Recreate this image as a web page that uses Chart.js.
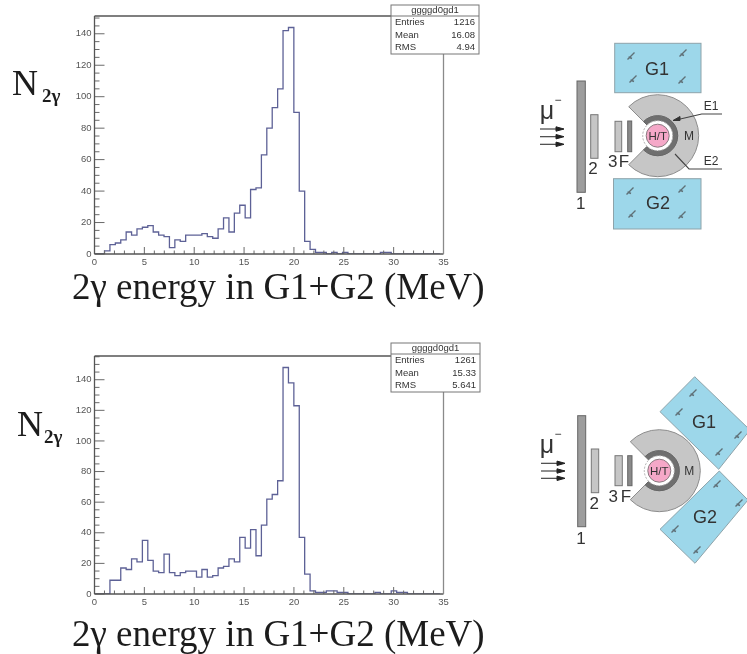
<!DOCTYPE html>
<html><head><meta charset="utf-8">
<style>
html,body{margin:0;padding:0;background:#fff;width:747px;height:654px;overflow:hidden}
#page{position:relative;width:747px;height:654px;filter:blur(0.55px)}
canvas.c{position:absolute;left:0}
.t{position:absolute;font-family:"Liberation Serif",serif;color:#1c1c1c;white-space:nowrap;line-height:1}
svg{position:absolute;left:0;top:0}
svg text{font-family:"Liberation Sans",sans-serif;fill:#333;text-anchor:middle;dominant-baseline:central}
</style>
<script src="https://cdn.jsdelivr.net/npm/chart.js@4"></script>
</head><body><div id="page">
<canvas class="c" id="c1" width="747" height="327" style="top:0;width:747px;height:327px"></canvas>
<canvas class="c" id="c2" width="747" height="327" style="top:327px;width:747px;height:327px"></canvas>
<div class="t" style="left:12px;top:65px;font-size:36px">N<span style="font-size:19px;font-weight:bold;position:relative;top:7px;left:4px">2γ</span></div>
<div class="t" style="left:17px;top:406px;font-size:36px">N<span style="font-size:19px;font-weight:bold;position:relative;top:7px;left:1px">2γ</span></div>
<div class="t" style="left:72px;top:268px;font-size:37px">2γ energy in G1+G2 (MeV)</div>
<div class="t" style="left:72px;top:615px;font-size:37px">2γ energy in G1+G2 (MeV)</div>
<svg id="dia" width="747" height="654"></svg>
</div>
<script>
// Histogram values (one count per bin, starting at the first bin)
const binStartMeV = -0.08;
const binWidthMeV = 0.5425;
const countsTop = [0,0,2,6,7,9,14,12,16,17,18,14,12,11,4,9,8,12,12,12,13,11,10,16,23,14,26,31,23,41,42,63,80,93,105,142,144,90,40,8,3,1,1,0,1,0,1,0,0,0,0,0,0,1,1,0,0,0,0,0,0,0,0,0];
const countsBottom = [0,0,0,9,9,17,16,23,21,35,22,15,14,26,14,12,14,15,15,11,16,11,12,17,18,23,21,37,30,42,25,45,62,65,74,148,138,123,37,13,2,1,1,2,2,1,1,0,0,0,0,0,1,0,0,2,1,1,0,0,0,0,0,0];
const xTicks = [0,5,10,15,20,25,30,35];
const yTicks = [0,20,40,60,80,100,120,140];
const xMinorStep = 1;
const yMinorStep = 5;
const statsTop = {name:"ggggd0gd1", Entries:"1216", Mean:"16.08", RMS:"4.94"};
const statsBottom = {name:"ggggd0gd1", Entries:"1261", Mean:"15.33", RMS:"5.641"};

function stepPoints(counts){
  const pts = counts.map((v,i)=>({x:binStartMeV+i*binWidthMeV,y:v}));
  pts.push({x:binStartMeV+counts.length*binWidthMeV,y:0});
  return pts;
}
const rootStyle = {
  id:'rootStyle',
  afterDatasetsDraw(chart,_,opts){
    const {ctx,chartArea:a,scales:{x,y}} = chart;
    ctx.save();
    ctx.strokeStyle='#6a6a6a'; ctx.lineWidth=1;
    const line=(x0,y0,x1,y1)=>{ctx.beginPath();ctx.moveTo(x0,y0);ctx.lineTo(x1,y1);ctx.stroke();};
    for(let v=0;v<=x.max;v+=xMinorStep){
      const major=xTicks.includes(v), px=x.getPixelForValue(v);
      line(px,a.bottom,px,a.bottom-(major?7:3.5));
    }
    for(let v=0;v<=y.max;v+=yMinorStep){
      const major=yTicks.includes(v), py=y.getPixelForValue(v);
      line(a.left,py,a.left+(major?10:5),py);
    }
    ctx.strokeStyle='#555'; ctx.lineWidth=1.3;
    line(a.left,a.top,a.left,a.bottom);
    line(a.left,a.bottom,a.right,a.bottom);
    line(a.left,a.top,opts.box.x,a.top);
    ctx.strokeStyle='#8a8a8a';
    line(a.right,opts.box.y+opts.box.h,a.right,a.bottom);
    // statistics box
    const b=opts.box,s=opts.stats;
    ctx.fillStyle='#fff'; ctx.fillRect(b.x,b.y,b.w,b.h);
    ctx.strokeStyle='#777'; ctx.lineWidth=1;
    ctx.strokeRect(b.x,b.y,b.w,b.h);
    line(b.x,b.y+b.head,b.x+b.w,b.y+b.head);
    ctx.fillStyle='#333'; ctx.font='9.5px "Liberation Sans"'; ctx.textBaseline='middle';
    ctx.textAlign='center'; ctx.fillText(s.name,b.x+b.w/2,b.y+b.head/2);
    const rowH=(b.h-b.head)/3;
    ['Entries','Mean','RMS'].forEach((k,i)=>{
      const ry=b.y+b.head+rowH*(i+.5);
      ctx.textAlign='left'; ctx.fillText(k,b.x+4,ry);
      ctx.textAlign='right'; ctx.fillText(s[k],b.x+b.w-4,ry);
    });
    ctx.restore();
  }
};
function hist(id,counts,stats,top,bottom,yMax,box){
  new Chart(document.getElementById(id),{
    type:'line',
    data:{datasets:[{data:stepPoints(counts),stepped:'before',borderColor:'#5d6196',borderWidth:1.3,pointRadius:0,fill:false}]},
    options:{
      responsive:false,animation:false,
      layout:{padding:{left:0,right:303.5,top:top,bottom:0}},
      plugins:{legend:{display:false},tooltip:{enabled:false},rootStyle:{stats:stats,box:box}},
      scales:{
        x:{type:'linear',min:0,max:35,
          grid:{display:false,drawTicks:false,tickLength:0},border:{display:false},
          afterBuildTicks:s=>{s.ticks=xTicks.map(v=>({value:v}));},
          afterFit:s=>{s.height=327-bottom;},
          ticks:{autoSkip:false,maxRotation:0,padding:3,font:{family:'"Liberation Sans"',size:9.5},color:'#555',callback:v=>String(v)}},
        y:{type:'linear',min:0,max:yMax,
          grid:{display:false,drawTicks:false,tickLength:0},border:{display:false},
          afterBuildTicks:s=>{s.ticks=yTicks.map(v=>({value:v}));},
          afterFit:s=>{s.width=94.5;},
          ticks:{autoSkip:false,padding:3,font:{family:'"Liberation Sans"',size:9.5},color:'#555',callback:v=>String(v)}}
      }
    },
    plugins:[rootStyle]
  });
}
hist('c1',countsTop,statsTop,16,254,151.3,{x:391,y:5,w:88,h:49,head:11});
hist('c2',countsBottom,statsBottom,29,267,155.5,{x:391,y:16,w:89,h:49,head:11});

// Detector schematics
const NS='http://www.w3.org/2000/svg', dia=document.getElementById('dia');
function el(n,a,txt){const e=document.createElementNS(NS,n);for(const k in a)e.setAttribute(k,a[k]);if(txt)e.textContent=txt;dia.appendChild(e);return e;}
const rect=(x0,y0,x1,y1,fill,stroke)=>el('rect',{x:x0,y:y0,width:x1-x0,height:y1-y0,fill:fill,stroke:stroke,'stroke-width':1});
const label=(x,y,s,size)=>el('text',{x:x,y:y,'font-size':size},s);
const poly=(pts,fill,stroke)=>el('polygon',{points:pts.map(p=>p.join(',')).join(' '),fill:fill,stroke:stroke,'stroke-width':1});
const seg=(pts,c,w)=>el('polyline',{points:pts.map(p=>p.join(',')).join(' '),fill:'none',stroke:c,'stroke-width':w});
function sector(cx,cy,r0,r1,fill,stroke){
  const g=Math.SQRT1_2;
  const d=`M${cx-g*r1} ${cy-g*r1}A${r1} ${r1} 0 1 1 ${cx-g*r1} ${cy+g*r1}L${cx-g*r0} ${cy+g*r0}A${r0} ${r0} 0 1 0 ${cx-g*r0} ${cy-g*r0}Z`;
  el('path',{d:d,fill:fill,stroke:stroke,'stroke-width':1});
}
function core(cx,cy){
  sector(cx,cy,20,41,'#c6c6c6','#8c8c8c');
  sector(cx,cy,15,20,'#6f6f6f','#666');
  el('circle',{cx:cx,cy:cy,r:15,fill:'#fff',stroke:'#aaa','stroke-width':1,'stroke-dasharray':'2 1.5'});
  el('circle',{cx:cx,cy:cy,r:11.5,fill:'#f5a8c8',stroke:'#8a7a80','stroke-width':1});
  label(cx,cy,'H/T',11.5);
}
function mark(x,y){el('path',{d:`M${x-3.5} ${y+3.5}L${x+3.5} ${y-3.5}M${x-2.5} ${y+1}L${x+1} ${y+2.5}`,stroke:'#5f7077','stroke-width':1.4,fill:'none'});}
function arrows(x0,x1,ys){ys.forEach(y=>{seg([[x0,y],[x1-5,y]],'#333',1.1);poly([[x1,y],[x1-8,y-2.2],[x1-8,y+2.2]],'#222','#222');});}
function bars(b1,b2,b3,f){
  rect(b1[0],b1[1],b1[2],b1[3],'#9d9d9d','#666');
  rect(b2[0],b2[1],b2[2],b2[3],'#c6c6c6','#777');
  rect(b3[0],b3[1],b3[2],b3[3],'#c6c6c6','#777');
  rect(f[0],f[1],f[2],f[3],'#8a8a8a','#666');
}
const blue='#9dd7ea', blueEdge='#8ea3aa';
// top schematic
rect(614.7,43.3,701,92.7,blue,blueEdge);
rect(613.5,178.7,701,229,blue,blueEdge);
[[631,56],[683,53],[633,79],[682,80],[630,191],[682,189],[632,214],[682,215]].forEach(p=>mark(p[0],p[1]));
label(657,69,'G1',18); label(658,203,'G2',18);
bars([577,81,585.3,192.3],[590.7,114.7,598,158.3],[615,121.3,621.7,151.7],[627.7,121,631.7,151.7]);
core(657.7,135.7);
label(689,135.7,'M',12);
seg([[722,114],[701.7,114],[676,120]],'#444',1.1); poly([[673,120.5],[680,116.5],[680,120.5]],'#333','#333');
seg([[722,169],[689,169],[675,154]],'#444',1.1);
label(711,106,'E1',12); label(711,160.5,'E2',12);
label(547,110,'μ',25); label(558,100,'−',12);
arrows(540,564,[129,136.7,144.3]);
label(580.7,203,'1',17); label(593,168,'2',17); label(612.7,161,'3',17); label(624,161,'F',17);
// bottom schematic
poly([[694.7,376.7],[750,430],[718.7,469.3],[660,411.7]],blue,blueEdge);
poly([[660,529.3],[719.3,471],[748,500],[695,563.3]],blue,blueEdge);
[[693,393],[679,412],[738,435],[719,452],[717,484],[739,503],[675,529],[697,550]].forEach(p=>mark(p[0],p[1]));
label(704,421.7,'G1',18); label(705,517.3,'G2',18);
bars([577.7,415.7,585.7,526.7],[591.3,449,598.7,492.7],[615,455.7,622.3,485.7],[627.7,455.7,632,485.7]);
core(659.3,470.7);
label(689.3,470.7,'M',12);
label(547,444,'μ',25); label(558,434,'−',12);
arrows(541,565,[463.3,471,478.3]);
label(581,538.5,'1',17); label(594.3,503.5,'2',17); label(613.3,496,'3',17); label(626,496,'F',17);
</script></body></html>
